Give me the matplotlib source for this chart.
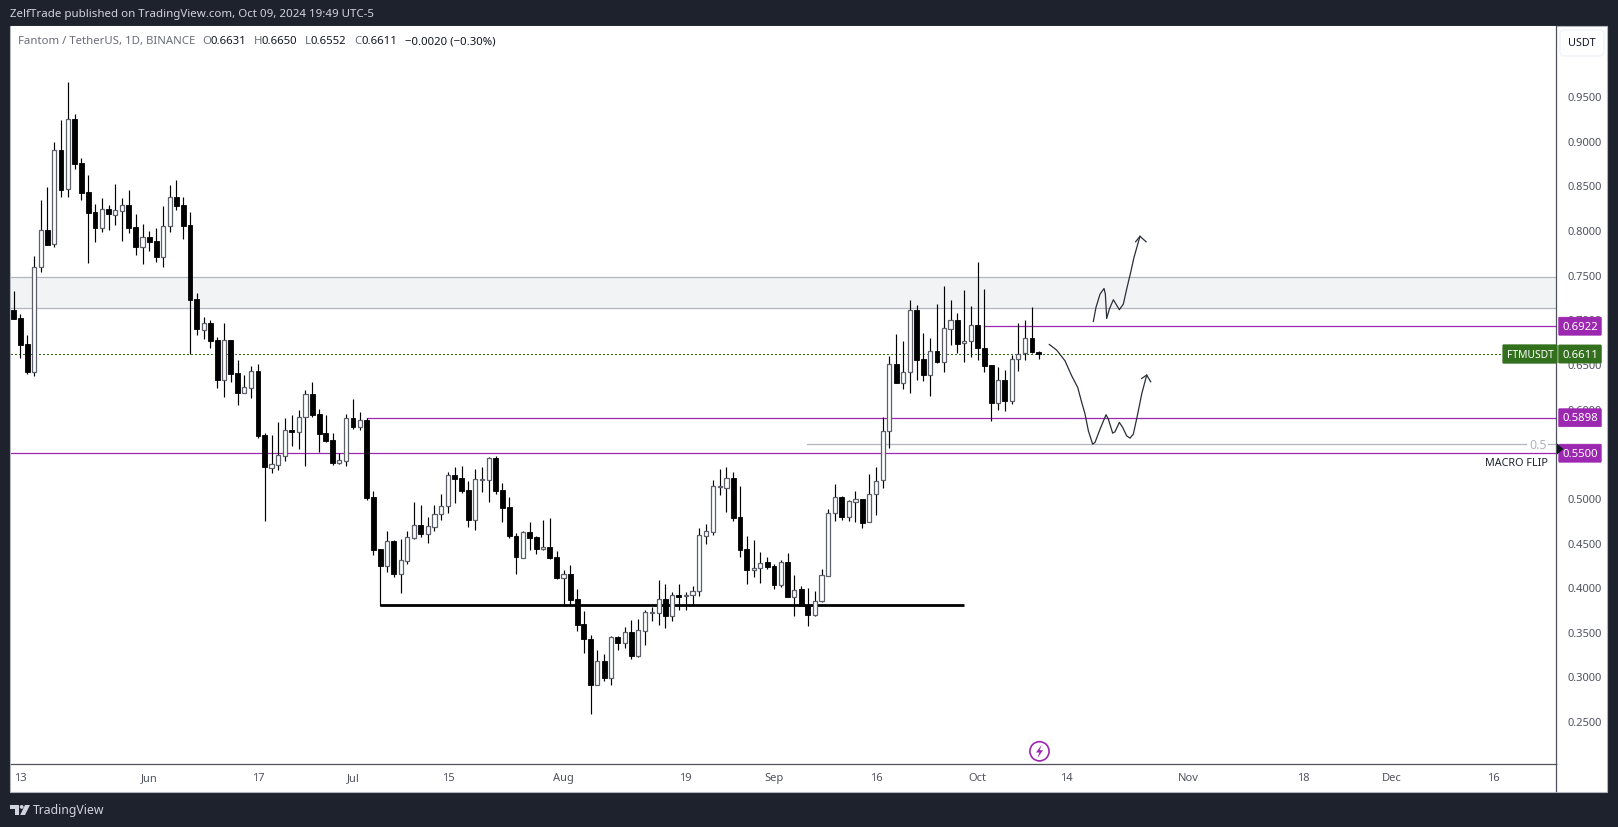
import numpy as np
import matplotlib
matplotlib.use("Agg")
import matplotlib.pyplot as plt
from matplotlib.patches import Rectangle, Circle, Polygon, FancyBboxPatch

# ---- data -----------------------------------------------------------------
first_day = -50  # days relative to Jul 1, 2024 (May 12)
opens = [.7103,.7013,.6722,.6412,.7581,.7995,.7846,.8891,.8454,.9238,
 .8745,.8424,.8197,.8025,.8230,.8171,.8215,.8275,.8029,.7812,
 .7920,.7872,.7700,.8040,.8368,.8279,.8055,.7226,.6883,.6957,
 .6767,.6323,.6767,.6397,.6177,.6233,.6420,.5707,.5337,.5371,
 .5471,.5755,.5740,.5901,.6162,.5938,.5725,.5647,.5393,.5415,
 .5889,.5796,.5871,.5005,.4422,.4239,.4516,.4150,.4295,.4553,
 .4691,.4598,.4676,.4822,.4904,.5255,.5217,.5087,.4755,.5199,
 .5203,.5445,.5087,.4896,.4572,.4329,.4613,.4557,.4430,.4448,
 .4336,.4105,.4153,.3866,.3586,.3425,.2907,.3168,.2985,.3437,
 .3377,.3496,.3228,.3511,.3713,.3709,.3873,.3679,.3918,.3903,
 .3907,.3959,.4575,.4620,.5124,.5113,.5221,.4781,.4422,.4195,
 .4217,.4277,.4236,.4027,.4280,.3892,.3985,.3791,.3691,.3847,
 .4127,.4833,.5005,.4788,.4956,.4986,.4725,.5049,.5195,.5744,
 .6494,.6289,.6405,.7103,.6550,.6379,.6640,.6524,.6886,.6987,
 .6729,.6752,.6931,.6677,.6483,.6065,.6315,.6087,.6550,.6617,
 .6789,.6631]
highs = [.7312,.7054,.6823,.7708,.8335,.8480,.8981,.9231,.9656,.9298,
 .8805,.8615,.8290,.8357,.8279,.8514,.8357,.8447,.8178,.8066,
 .7984,.8025,.8268,.8503,.8559,.8368,.8200,.7293,.7024,.6991,
 .6797,.6957,.6767,.6543,.6375,.6472,.6498,.5725,.5703,.5845,
 .5893,.5927,.5983,.6203,.6296,.5994,.5927,.5725,.5498,.5934,
 .6106,.5957,.5889,.5076,.4433,.4624,.4527,.4534,.4624,.4949,
 .4919,.4781,.4919,.5049,.5288,.5348,.5356,.5191,.5322,.5344,
 .5453,.5464,.5161,.5005,.4605,.4624,.4728,.4568,.4755,.4773,
 .4404,.4187,.4247,.3978,.3732,.3470,.3295,.3250,.3448,.3455,
 .3552,.3638,.3642,.3750,.3780,.4079,.4034,.3941,.4034,.3948,
 .4012,.4661,.4706,.5199,.5322,.5344,.5288,.5132,.4572,.4527,
 .4396,.4336,.4258,.4303,.4381,.4135,.4012,.3989,.3952,.4198,
 .4874,.5150,.5016,.4979,.5076,.4986,.5266,.5341,.5901,.6588,
 .6834,.6756,.7215,.7159,.6845,.6789,.7170,.7372,.7215,.7069,
 .7327,.7148,.7640,.7338,.6487,.6464,.6431,.6603,.6957,.6991,
 .7136,.6650]
lows = [.7002,.6569,.6390,.6367,.7528,.7835,.7812,.8368,.8368,.8682,
 .8335,.7629,.7864,.7980,.7999,.8055,.7876,.7969,.7719,.7618,
 .7764,.7640,.7584,.7976,.8227,.7898,.6606,.6823,.6778,.6677,
 .6229,.6128,.6293,.6039,.6177,.6117,.5669,.4740,.5277,.5311,
 .5415,.5580,.5546,.5356,.5908,.5512,.5621,.5371,.5378,.5356,
 .5770,.5763,.4975,.4359,.3791,.4165,.4112,.3933,.4258,.4534,
 .4564,.4493,.4631,.4751,.4833,.4941,.5053,.4672,.4643,.5064,
 .4952,.5042,.4728,.4549,.4146,.4329,.4415,.4370,.4419,.4314,
 .4094,.3791,.3810,.3508,.3261,.2578,.2907,.2951,.2903,.3295,
 .3317,.3194,.3216,.3351,.3620,.3575,.3541,.3620,.3743,.3743,
 .3791,.3900,.4482,.4583,.5035,.4840,.4740,.4336,.4034,.4116,
 .4049,.4202,.3978,.4004,.3888,.3676,.3791,.3564,.3676,.3832,
 .4127,.4740,.4755,.4740,.4728,.4661,.4725,.4811,.5109,.5561,
 .6289,.6222,.6177,.6323,.6308,.6143,.6509,.6408,.6711,.6621,
 .6520,.6580,.6547,.6412,.5863,.5983,.5972,.6054,.6420,.6543,
 .6621,.6552]
closes = [.7002,.6711,.6408,.7581,.7995,.7835,.8891,.8451,.9238,.8742,
 .8417,.8193,.8025,.8230,.8182,.8219,.8275,.8025,.7812,.7917,
 .7864,.7700,.8040,.8365,.8268,.8044,.7219,.6890,.6953,.6756,
 .6319,.6763,.6386,.6173,.6237,.6416,.5695,.5344,.5374,.5475,
 .5755,.5736,.5901,.6158,.5927,.5714,.5636,.5389,.5419,.5889,
 .5792,.5867,.4997,.4419,.4239,.4512,.4146,.4299,.4557,.4691,
 .4594,.4680,.4825,.4904,.5251,.5210,.5076,.4755,.5206,.5206,
 .5441,.5076,.4885,.4572,.4336,.4613,.4549,.4426,.4445,.4325,
 .4101,.4150,.3855,.3575,.3418,.2903,.3168,.2985,.3437,.3373,
 .3493,.3228,.3515,.3717,.3720,.3873,.3679,.3918,.3892,.3911,
 .3952,.4579,.4624,.5128,.5132,.5217,.4773,.4415,.4191,.4217,
 .4273,.4224,.4027,.4277,.3888,.3974,.3791,.3687,.3847,.4131,
 .4833,.5005,.4784,.4964,.4982,.4717,.5049,.5191,.5744,.6494,
 .6289,.6405,.7099,.6547,.6379,.6640,.6520,.6897,.6987,.6726,
 .6752,.6931,.6681,.6479,.6065,.6315,.6087,.6550,.6614,.6785,
 .6631,.6611]

date_ticks = [-49, -30, -14, 0, 14, 31, 49, 62, 77, 92, 105, 123, 140, 153, 168]
date_labels = ["13", "Jun", "17", "Jul", "15", "Aug", "19", "Sep", "16", "Oct",
               "14", "Nov", "18", "Dec", "16"]
price_ticks = [.25, .30, .35, .40, .45, .50, .55, .60, .65, .70, .75, .80, .85, .90, .95]

zone_low, zone_high = 0.7123, 0.7470
macro_flip = 0.5500
level_mid = 0.5898
level_mid_start = 2
level_top = 0.6922
level_top_start = 93
support = 0.3800
support_days = [4, 90]
fib_half = 0.5600
fib_start = 66.9
last_close = 0.6611

up_days = [109.03,109.42,110.02,110.61,110.80,111.00,111.39,111.98,112.37,112.86,
           113.45,113.94,114.53,115.02,115.90]
up_prices = [.6976,.7133,.7282,.7345,.7282,.7009,.7114,.7219,.7170,.7107,
             .7170,.7338,.7525,.7693,.7929]
up_head_days = [115.26, 115.90, 116.80]
up_head_prices = [.7868, .7929, .7868]
down_days = [102.55,103.63,104.86,105.84,106.73,107.32,107.81,108.30,108.93,109.28,
             110.02,110.90,111.24,111.88,112.22,112.86,113.35,113.94,114.43,114.92,
             115.51,116.15,116.89]
down_prices = [.6718,.6655,.6535,.6367,.6237,.6069,.5938,.5751,.5602,.5621,
               .5770,.5931,.5882,.5725,.5740,.5845,.5789,.5695,.5669,.5714,
               .5919,.6162,.6375]
down_head_days = [116.15, 116.89, 117.48]
down_head_prices = [.6337, .6375, .6300]

# ---- styling --------------------------------------------------------------
W, H = 1618, 828
DARK = "#1e222d"
PURPLE = "#9c27b0"
GREEN = "#33701d"
GREY = "#b2b5be"
FONT = "Noto Sans"
plt.rcParams["font.family"] = FONT

fig = plt.figure(figsize=(W / 100, H / 100), dpi=100, facecolor=DARK)

def px_axes(left, top, right, bottom, **kw):
    return fig.add_axes([left / W, 1 - bottom / H, (right - left) / W, (bottom - top) / H], **kw)

# chrome under the chart
bg = fig.add_axes([0, 0, 1, 1], zorder=0)
bg.set_xlim(0, W); bg.set_ylim(H, 0); bg.axis("off")
bg.add_patch(Rectangle((10.5, 27), 1597, 765.5, fc="white", ec=GREY, lw=0.8))

# main chart
ax = px_axes(11, 27, 1556, 765, zorder=1)
ax.set_facecolor("white")
ax.set_xlim(-50.37, 177.17)
ax.set_ylim(0.2020, 1.0284)
for s in ("top", "left"):
    ax.spines[s].set_visible(False)
for s in ("right", "bottom"):
    ax.spines[s].set_color("#50535e")
    ax.spines[s].set_linewidth(0.9)

ax.yaxis.tick_right()
ax.set_yticks(price_ticks)
ax.set_yticklabels([f"{p:.4f}" for p in price_ticks], fontsize=8, color="#50535e")
ax.tick_params(axis="y", length=0, pad=8)
ax.set_xticks(date_ticks)
ax.set_xticklabels(date_labels, fontsize=8, color="#50535e")
ax.tick_params(axis="x", length=0, pad=5.5)

# zone and levels (behind candles)
ax.axhspan(zone_low, zone_high, fc="#f2f3f5", ec="none", zorder=1)
for lvl in (zone_low, zone_high):
    ax.axhline(lvl, color=GREY, lw=0.9, zorder=1.1)
ax.axhline(macro_flip, color=PURPLE, lw=0.9, zorder=1.2)
ax.plot([level_mid_start, 177.17], [level_mid, level_mid], color=PURPLE, lw=0.9, zorder=1.2)
ax.plot([level_top_start, 177.17], [level_top, level_top], color=PURPLE, lw=0.9, zorder=1.2)
ax.plot(support_days, [support, support], color="black", lw=2.0, zorder=1.3, solid_capstyle="butt")
ax.plot([fib_start, 172.8], [fib_half, fib_half], color=GREY, lw=0.9, zorder=1.2)
ax.plot([176.0, 177.17], [fib_half, fib_half], color=GREY, lw=0.9, zorder=1.2)
ax.axhline(last_close, color="#2f6b12", lw=1.0, ls=(0, (0.8, 1.6)), zorder=1.2, antialiased=False)

# candles
days = np.arange(first_day, first_day + len(closes))
o, h, l, c = map(np.array, (opens, highs, lows, closes))
up = c >= o
ax.vlines(days, l, h, color="black", lw=0.85, zorder=2)
bottoms = np.minimum(o, c)
heights = np.abs(c - o)
ax.bar(days[~up], heights[~up], bottom=bottoms[~up], width=0.72, color="black",
       edgecolor="black", lw=0.6, zorder=3)
ax.bar(days[up], heights[up], bottom=bottoms[up], width=0.6, color="white",
       edgecolor="#5d606b", lw=0.9, zorder=3)

# hand-drawn paths
for xs, ys in ((up_days, up_prices), (up_head_days, up_head_prices),
               (down_days, down_prices), (down_head_days, down_head_prices)):
    ax.plot(xs, ys, color="#2a2e39", lw=0.9, zorder=4, solid_joinstyle="round")

# price tags on the axis (drawn above the tick labels)
ytr = ax.get_yaxis_transform()
tag_x = (1580 - 11) / (1556 - 11)
for p in (level_top, level_mid, macro_flip):
    ax.text(tag_x, p, f"{p:.4f}", transform=ytr, ha="center", va="center", color="white",
            fontsize=8.2, fontweight="bold", zorder=10, clip_on=False,
            bbox=dict(boxstyle="round,pad=0.32,rounding_size=0.1", fc=PURPLE, ec=PURPLE, lw=0.3))
ax.text(tag_x, last_close, f"{last_close:.4f}", transform=ytr, ha="center", va="center",
        color="white", fontsize=8.2, fontweight="bold", zorder=10, clip_on=False,
        bbox=dict(boxstyle="round,pad=0.32,rounding_size=0.1", fc=GREEN, ec=GREEN, lw=0.3))
ax.text((1530 - 11) / (1556 - 11), last_close, "FTMUSDT", transform=ytr, ha="center", va="center",
        color="white", fontsize=7.4, fontweight="bold", zorder=10, clip_on=False,
        bbox=dict(boxstyle="round,pad=0.38,rounding_size=0.1", fc=GREEN, ec=GREEN, lw=0.3))
ax.text((1547 - 11) / (1556 - 11), fib_half, "0.5", transform=ytr, ha="right", va="center",
        color=GREY, fontsize=9, zorder=5)
ax.text((1548 - 11) / (1556 - 11), 0.5401, "MACRO FLIP", transform=ytr, ha="right", va="center",
        color="#1e222d", fontsize=7.8, zorder=5)

# chrome over the chart (pixel coordinates)
top = fig.add_axes([0, 0, 1, 1], zorder=2)
top.set_xlim(0, W); top.set_ylim(H, 0); top.axis("off"); top.patch.set_alpha(0)
top.text(10, 15, "ZelfTrade published on TradingView.com, Oct 09, 2024 19:49 UTC-5",
         color="#d1d4dc", fontsize=8.3, va="center", ha="left")
top.text(18, 41.7, "Fantom / TetherUS, 1D, BINANCE", color="#6a6d78", fontsize=8.2, va="center")
for xt, s, col in ((202, "O", "#6a6d78"), (210.5, "0.6631", "#131722"),
                   (253.5, "H", "#6a6d78"), (261.5, "0.6650", "#131722"),
                   (305, "L", "#6a6d78"), (310.5, "0.6552", "#131722"),
                   (354, "C", "#6a6d78"), (362, "0.6611", "#131722"),
                   (404.6, "\u22120.0020 (\u22120.30%)", "#131722")):
    top.text(xt, 41.7, s, color=col, fontsize=8.2, va="center")
top.add_patch(FancyBboxPatch((1562, 33), 40, 22, boxstyle="round,pad=2,rounding_size=4",
                             fc="white", ec="#f0f3fa", lw=1))
top.text(1582, 44, "USDT", color="#131722", fontsize=7.8, ha="center", va="center")
top.plot([1556, 1556], [765, 792], color="#50535e", lw=0.9)
top.add_patch(Polygon([[1557, 444.5], [1563.5, 450], [1557, 455.5]], fc="#131722", ec="none"))

# lightning badge
top.add_patch(Circle((1039.5, 752.3), 9.6, fc="white", ec=PURPLE, lw=1.2))
top.add_patch(Polygon([[1041.5, 746], [1036, 753.5], [1039.3, 753.5], [1037.5, 759],
                       [1043, 751.2], [1039.7, 751.2]], fc=PURPLE, ec="none"))

# TradingView logo
logo = "#d1d4dc"
top.add_patch(Polygon([[10, 806], [19, 806], [19, 816], [15, 816], [15, 810], [10, 810]], fc=logo, ec="none"))
top.add_patch(Circle((21.7, 807.9), 1.9, fc=logo, ec="none"))
top.add_patch(Polygon([[25, 806], [30, 806], [25, 816], [20.2, 816]], fc=logo, ec="none"))
top.text(33, 810.5, "TradingView", color=logo, fontsize=8.8, va="center", ha="left")

fig.savefig("out.png", dpi=100, facecolor=DARK)
